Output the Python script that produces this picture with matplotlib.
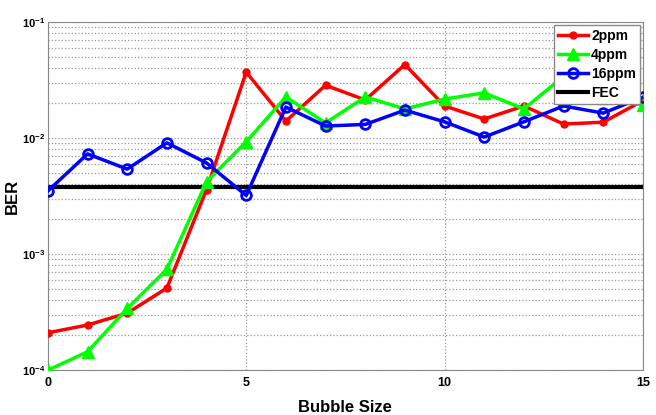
import matplotlib.pyplot as plt
from matplotlib.ticker import LogLocator, FixedLocator

plt.rcParams['font.family'] = ['Liberation Sans', 'DejaVu Sans']

bubble = list(range(16))
ber_2ppm = [2.1e-4, 2.45e-4, 3.1e-4, 5.1e-4, 3.6e-3, 3.7e-2, 1.4e-2, 2.85e-2,
            2.13e-2, 4.3e-2, 1.89e-2, 1.46e-2, 1.89e-2, 1.32e-2, 1.37e-2, 2.1e-2]
ber_4ppm = [1.0e-4, 1.44e-4, 3.4e-4, 7.4e-4, 4.2e-3, 9.3e-3, 2.26e-2, 1.35e-2,
            2.26e-2, 1.78e-2, 2.17e-2, 2.45e-2, 1.78e-2, 3.4e-2, 2.2e-2, 1.93e-2]
ber_16ppm = [3.5e-3, 7.3e-3, 5.4e-3, 9.1e-3, 6.1e-3, 3.2e-3, 1.85e-2, 1.27e-2,
             1.31e-2, 1.74e-2, 1.38e-2, 1.02e-2, 1.38e-2, 1.89e-2, 1.64e-2, 2.25e-2]
fec_limit = 3.8e-3

fig = plt.figure(figsize=(6.56, 4.15), dpi=100)
ax = fig.add_axes([0.073, 0.108, 0.907, 0.839])

ax.plot(bubble, ber_2ppm, color='#ff0000', lw=2.5, marker='o', ms=5,
        label='2ppm', zorder=3)
ax.plot(bubble, ber_4ppm, color='#00ff00', lw=2.5, marker='^', ms=9,
        label='4ppm', zorder=3)
ax.plot(bubble, ber_16ppm, color='#0000ff', lw=2.5, marker='o', ms=7,
        mfc='none', mew=2, label='16ppm', zorder=4)
ax.axhline(fec_limit, color='black', lw=3, label='FEC', zorder=2)

ax.set_yscale('log')
ax.set_xlim(0, 15)
ax.set_ylim(1e-4, 1e-1)
ax.xaxis.set_major_locator(FixedLocator([0, 5, 10, 15]))
ax.yaxis.set_major_locator(LogLocator(base=10, numticks=10))
ax.yaxis.set_minor_locator(LogLocator(base=10, subs=range(2, 10), numticks=20))

ax.grid(True, which='major', color='#999999', linestyle=':', lw=0.9)
ax.grid(True, which='minor', axis='y', color='#999999', linestyle=':', lw=0.9)
ax.tick_params(which='both', direction='in', length=0, labelsize=9)
ax.tick_params(axis='x', pad=5)
ax.tick_params(axis='y', pad=2, labelsize=8)
for lbl in ax.get_xticklabels() + ax.get_yticklabels():
    lbl.set_fontweight('bold')
for s in ax.spines.values():
    s.set_color('#888888')

ax.set_xlabel('Bubble Size', fontsize=12, fontweight='bold', labelpad=8)
ax.set_ylabel('BER', fontsize=12, fontweight='bold')
ax.yaxis.set_label_coords(-0.047, 0.5)

leg = ax.legend(loc='upper right', prop={'weight': 'bold', 'size': 10},
                fancybox=False, framealpha=1, edgecolor='#888888',
                borderpad=0.3, labelspacing=0.35, handlelength=2.2,
                handletextpad=0.2, borderaxespad=0.2)

plt.savefig('out.png', dpi=100)
